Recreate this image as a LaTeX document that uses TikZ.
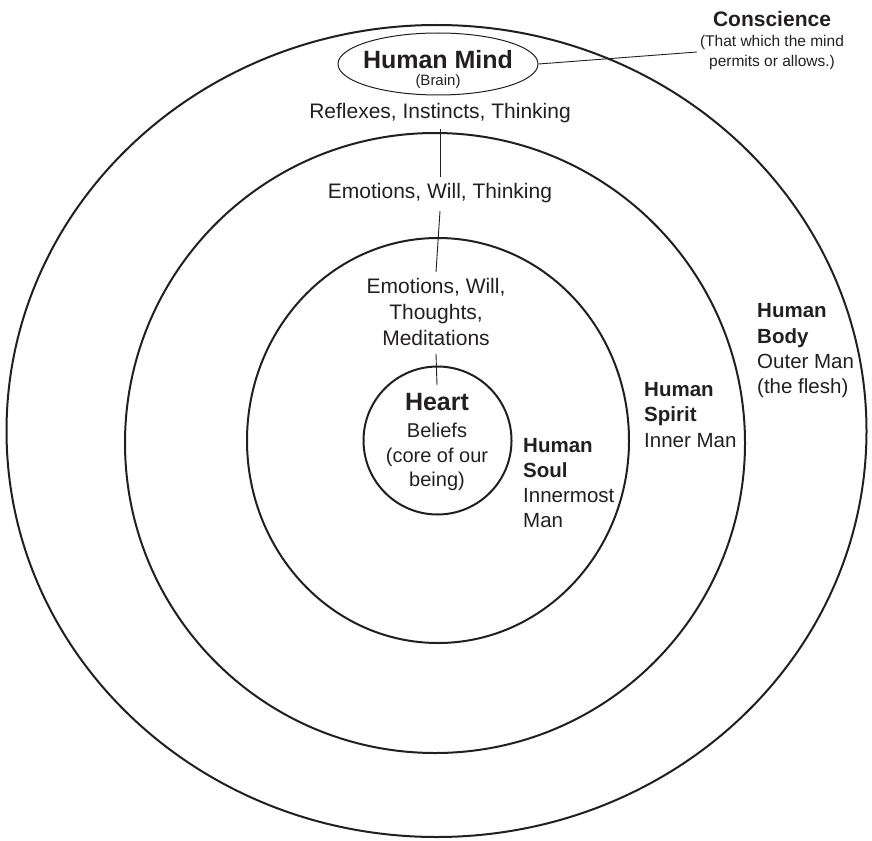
\documentclass[tikz,border=0pt]{standalone}
\usepackage{fontspec}
\setmainfont{Liberation Sans}
\usetikzlibrary{shapes.geometric, positioning}
\definecolor{ink}{HTML}{231F20}

\begin{document}
\begin{tikzpicture}[x=1pt, y=-1pt,
		every node/.style={text=ink, inner sep=0pt, align=center, font=\fontsize{21}{26}\selectfont},
		ring/.style={draw=ink, line width=2pt},
		side/.style={anchor=west, align=left, font=\fontsize{20.5}{25.3}\selectfont},
		big/.style={font=\fontsize{25}{27}\selectfont\bfseries},
		link/.style={draw=ink, line width=0.9pt}]
		\useasboundingbox (0,0) rectangle (872,840);

		% the four rings
		\draw[ring] (436.5,431) ellipse [x radius=430, y radius=406];
		\draw[ring] (435,443) circle [radius=310];
		\draw[ring] (438,440.5) ellipse [x radius=191, y radius=202.5];
		\draw[ring] (437.5,440.5) circle [radius=74];

		\node[ellipse, draw=ink, line width=1pt, minimum width=200, minimum height=62] (mind) at (438,64) {};
		\node[big] (mindlbl) at (438,60) {Human Mind};
		\node[font=\fontsize{15}{16}\selectfont] (brain) at (438,82) {(Brain)};

		\node[font=\fontsize{21}{24}\selectfont\bfseries] (consc) at (772,19) {Conscience};
		\node[font=\fontsize{15.5}{20}\selectfont, inner sep=3pt] (cnote) at (772,52) {(That which the mind\\permits or allows.)};

		\node (reflex) at (440,113) {Reflexes, Instincts, Thinking};
		\node (ewt) at (440,193) {Emotions, Will, Thinking};
		\node (ewtm) at (436,312) {Emotions, Will,\\Thoughts,\\Meditations};
		\node[big] (heart) at (437,402) {Heart};
		\node[font=\fontsize{20}{24.5}\selectfont] (beliefs) at (437,457) {Beliefs\\(core of our\\being)};

		\node[side] (soul) at (523,483) {\textbf{Human}\\\textbf{Soul}\\Innermost\\Man};
		\node[side] (spirit) at (644,415) {\textbf{Human}\\\textbf{Spirit}\\Inner Man};
		\node[side] (body) at (757,351) {\textbf{Human}\\\textbf{Body}\\Outer Man\\(the flesh)};

		\draw[link] ([yshift=-6]reflex.south) -- ([yshift=6]ewt.north);
		\draw[link] ([yshift=-8]ewt.south) -- ([yshift=6]ewtm.north);
		\draw[link] ([yshift=-8]ewtm.south) -- ([yshift=8]heart.north);
		\draw[link] (mind.east) -- (cnote.west);
	\end{tikzpicture}
\end{document}
